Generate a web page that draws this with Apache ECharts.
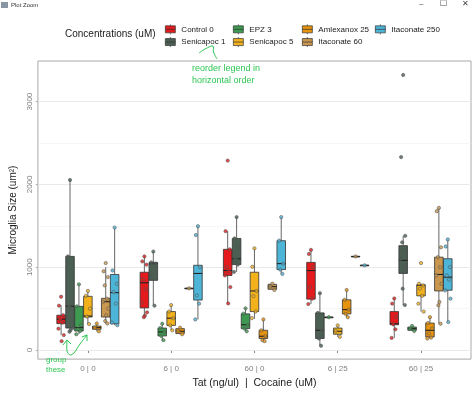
<!DOCTYPE html>
<html>
<head>
<meta charset="utf-8">
<script src="https://cdn.jsdelivr.net/npm/echarts@6/dist/echarts.min.js"></script>
<style>
html,body{margin:0;padding:0;background:#fff;}
#chart{width:474px;height:394px;}
</style>
</head>
<body>
<div id="chart"></div>
<script>
// ---- data ----
const groups = ['0 | 0', '6 | 0', '60 | 0', '6 | 25', '60 | 25'];
const concentrations = ['Control 0', 'Senicapoc 1', 'EPZ 3', 'Senicapoc 5', 'Amlexanox 25', 'Itaconate 60', 'Itaconate 250'];
const yTicks = [0, 1000, 2000, 3000];
const yMinor = [500, 1500, 2500];

// box stats per group: [min, Q1, median, Q3, max]
const control0Box = [[180,318,372,420,540],[396,508,812,939,1130],[562,900,960,1216,1435],[555,614,959,1058,1209],[146,305,317,464,622]];
const senicapoc1Box = [[220,265,529,1130,2053],[535,841,1043,1058,1189],[943,1031,1102,1347,1605],[51,139,238,448,686],[543,924,1082,1260,1379]];
const epz3Box = [[190,229,270,527,793],[119,170,218,265,317],[226,258,305,436,503],[396,396,396,396,396],[230,238,258,277,290]];
const senicapoc5Box = [[313,398,410,648,713],[238,297,384,464,543],[377,464,713,939,1228],[158,190,226,265,297],[464,654,781,788,800]];
const amlexanox25Box = [[225,250,270,289,320],[190,198,226,258,270],[107,139,166,238,369],[396,436,487,606,725],[139,158,238,325,396]];
const itaconate60Box = [[320,398,583,624,1000],[745,745,745,745,745],[725,733,765,793,800],[1130,1130,1130,1130,1130],[317,713,912,1121,1716]];
const itaconate250Box = [[300,317,693,912,1478],[369,603,924,1023,1495],[919,971,1043,1320,1605],[1023,1023,1023,1023,1023],[337,722,880,1102,1335]];

// individual observations per group
const control0Pts = [[643,535,420,372,330,258,180,107],[1130,1070,1031,852,733,574,455,416,396],[2287,1435,1216,1000,950,900,760,562],[1209,1160,1000,760,620,555],[622,560,400,310,250,146]];
const senicapoc1Pts = [[2053,1130,560,530,500,300,265,240,220],[1189,1058,1043,900,535],[1605,1347,1250,1100,1031,943],[686,448,238,139,51],[3321,2330,1379,1300,1200,1100,1000,950,740,543]];
const epz3Pts = [[793,527,300,250,229,190],[317,265,218,170,119],[503,440,300,258,226],[396],[290,258,230]];
const senicapoc5Pts = [[713,654,500,404,313],[543,464,384,297,238],[1228,1005,713,650,464,385],[297,226,158],[1050,800,781,740,654,560,464]];
const amlexanox25Pts = [[320,270,225],[270,226,190],[369,238,166,120,107],[725,606,487,436,396],[396,325,260,200,150,139]];
const itaconate60Pts = [[1050,951,880,780,620,583,500,420,350,320],[745],[800,765,725],[1130],[1716,1677,1240,1121,1000,900,800,580,540,317]];
const itaconate250Pts = [[1478,960,800,700,560,330,300],[1495,1388,1000,660,560,369],[1605,1320,1043,971,919],[1023],[1335,1250,1000,900,850,720,620,337]];

// ---- styling ----
const colors = ['#E41A1C', '#4B5F53', '#3D9A50', '#F3B21C', '#E6930E', '#C9974E', '#4DB5D8'];
const FONT = 'Liberation Sans, Arial, sans-serif';
const GREEN = '#2DC653';
const DODGE = 0.75;
const SLOT = DODGE / concentrations.length;
const JIT = [0, -0.025, 0.025, -0.012, 0.014, -0.032, 0.032, 0.006, -0.006, 0.02];

const allBoxes = [control0Box, senicapoc1Box, epz3Box, senicapoc5Box, amlexanox25Box, itaconate60Box, itaconate250Box];
const allPts = [control0Pts, senicapoc1Pts, epz3Pts, senicapoc5Pts, amlexanox25Pts, itaconate60Pts, itaconate250Pts];

function slotX(g, s) { return g + 1 - DODGE / 2 + SLOT * (s + 0.5); }

const boxData = [];
allBoxes.forEach((boxes, s) => {
  boxes.forEach((b, g) => {
    boxData.push([slotX(g, s), b[0], b[1], b[2], b[3], b[4], s]);
  });
});

function renderBox(params, api) {
  const x = api.value(0);
  const lo = api.coord([x, api.value(1)]);
  const q1 = api.coord([x, api.value(2)]);
  const md = api.coord([x, api.value(3)]);
  const q3 = api.coord([x, api.value(4)]);
  const hi = api.coord([x, api.value(5)]);
  const w = api.size([SLOT, 0])[0] * 0.96;
  const hw = w / 2;
  const col = colors[api.value(6)];
  const ln = { stroke: '#555', lineWidth: 0.9 };
  return {
    type: 'group',
    children: [
      { type: 'line', shape: { x1: lo[0], y1: lo[1], x2: q1[0], y2: q1[1] }, style: ln },
      { type: 'line', shape: { x1: q3[0], y1: q3[1], x2: hi[0], y2: hi[1] }, style: ln },
      { type: 'rect', shape: { x: q3[0] - hw, y: q3[1], width: w, height: Math.max(q1[1] - q3[1], 0.6) },
        style: { fill: col, stroke: '#333', lineWidth: 0.8 } },
      { type: 'line', shape: { x1: md[0] - hw, y1: md[1], x2: md[0] + hw, y2: md[1] }, style: { stroke: '#222', lineWidth: 1.1 } }
    ]
  };
}

const series = [];
// grid lines as markLines on an empty helper series
series.push({
  type: 'line', data: [], silent: true, z: 1,
  markLine: {
    silent: true, symbol: 'none', z: 1, label: { show: false }, animation: false,
    data: yTicks.map(v => ({ yAxis: v, lineStyle: { color: '#E6E6E6', width: 0.9, type: 'solid' } }))
      .concat(yMinor.map(v => ({ yAxis: v, lineStyle: { color: '#F2F2F2', width: 0.7, type: 'solid' } })))
  }
});
series.push({
  type: 'custom', name: 'boxes', renderItem: renderBox, data: boxData, z: 3,
  encode: { x: 0, y: [1, 2, 3, 4, 5] }, silent: true, animation: false
});
concentrations.forEach((name, s) => {
  const data = [];
  allPts[s].forEach((vals, g) => {
    vals.forEach((v, k) => data.push([slotX(g, s) + JIT[k % JIT.length], v]));
  });
  series.push({
    type: 'scatter', name: name, data: data, z: 4, symbolSize: 3.3, animation: false,
    itemStyle: { color: colors[s], borderColor: '#555', borderWidth: 0.7, opacity: 0.8 }
  });
});

const legendIcon = 'path://M5,0V1.5M5,8.5V10M0,1.5H10V8.5H0ZM0,5H10';
const legendCols = [['Control 0', 'Senicapoc 1'], ['EPZ 3', 'Senicapoc 5'], ['Amlexanox 25', 'Itaconate 60'], ['Itaconate 250']];
const legendLeft = [165, 233, 302, 375];
const legends = legendCols.map((names, i) => ({
  orient: 'vertical', left: legendLeft[i], top: 24, padding: 0,
  itemWidth: 10, itemHeight: 10, itemGap: 2, selectedMode: false,
  data: names.map(n => ({ name: n, icon: legendIcon })),
  itemStyle: { borderColor: '#333', borderWidth: 0.7, opacity: 1 },
  textStyle: { fontSize: 8, color: '#1a1a1a', fontFamily: FONT, padding: [0, 0, 0, 1] }
}));

const option = {
  backgroundColor: '#fff',
  animation: false,
  textStyle: { fontFamily: FONT },
  title: {
    text: 'Concentrations (uM)', left: 65, top: 29, padding: 0,
    textStyle: { fontSize: 10, fontWeight: 'normal', color: '#1a1a1a', fontFamily: FONT }
  },
  legend: legends,
  grid: { left: 34, right: 3, top: 61, bottom: 30, show: true, borderColor: '#A8A8A8', borderWidth: 1, backgroundColor: '#fff' },
  xAxis: {
    type: 'value', min: 0.4, max: 5.6,
    axisLine: { show: false },
    splitLine: { show: false },
    axisTick: { show: true, length: 3, lineStyle: { color: '#888' }, customValues: [1, 2, 3, 4, 5] },
    axisLabel: { customValues: [1, 2, 3, 4, 5], formatter: v => groups[Math.round(v) - 1], fontSize: 8, color: '#808080', margin: 6, fontFamily: FONT },
    name: 'Tat (ng/ul)  |  Cocaine (uM)', nameLocation: 'middle', nameGap: 16,
    nameTextStyle: { fontSize: 10.5, color: '#1a1a1a', fontFamily: FONT }
  },
  yAxis: {
    type: 'value', min: -110, max: 3490,
    axisLine: { show: false },
    splitLine: { show: false },
    axisTick: { show: true, length: 2, lineStyle: { color: '#aaa' }, customValues: yTicks },
    axisLabel: { customValues: yTicks, formatter: v => String(v), rotate: 90, fontSize: 8, color: '#808080', margin: 4, fontFamily: FONT },
    name: 'Microglia Size (um²)', nameLocation: 'middle', nameGap: 16,
    nameTextStyle: { fontSize: 10, color: '#1a1a1a', fontFamily: FONT }
  },
  graphic: [
    { type: 'rect', left: 1, top: 2, shape: { width: 7, height: 6 }, style: { fill: '#8895a3' } },
    { type: 'text', left: 11, top: 2, style: { text: 'Plot Zoom', fontSize: 6, fill: '#333', fontFamily: FONT } },
    { type: 'text', left: 419, top: 0, style: { text: '–', fontSize: 8, fill: '#444', fontFamily: FONT } },
    { type: 'text', left: 440, top: 0, style: { text: '☐', fontSize: 8, fill: '#444', fontFamily: 'DejaVu Sans' } },
    { type: 'text', left: 462, top: 0, style: { text: '✕', fontSize: 8, fill: '#444', fontFamily: 'DejaVu Sans' } },
    { type: 'text', left: 192, top: 64, style: { text: 'reorder legend in', fontSize: 9, fill: GREEN, fontFamily: FONT } },
    { type: 'text', left: 192, top: 76, style: { text: 'horizontal order', fontSize: 9, fill: GREEN, fontFamily: FONT } },
    { type: 'polyline', shape: { points: [[199,53],[206,48.5],[213,46],[213.5,52],[217,59]], smooth: 0.3 }, style: { fill: 'none', stroke: GREEN, lineWidth: 1 } },
    { type: 'text', left: 46, top: 356, style: { text: 'group', fontSize: 8, fill: GREEN, fontFamily: FONT } },
    { type: 'text', left: 46, top: 366, style: { text: 'these', fontSize: 8, fill: GREEN, fontFamily: FONT } },
    { type: 'polyline', shape: { points: [[67,340],[67,351],[70,355],[74,353],[80,344],[87,335]], smooth: 0.3 }, style: { fill: 'none', stroke: GREEN, lineWidth: 1 }, z: 100 },
    { type: 'polyline', shape: { points: [[63,345],[67,340],[71,344]] }, style: { fill: 'none', stroke: GREEN, lineWidth: 1 }, z: 100 },
    { type: 'polyline', shape: { points: [[82,337],[87,335],[87,341]] }, style: { fill: 'none', stroke: GREEN, lineWidth: 1 }, z: 100 }
  ],
  series: series
};

const chart = echarts.init(document.getElementById('chart'), null, { renderer: 'canvas' });
chart.setOption(option);
</script>
</body>
</html>
